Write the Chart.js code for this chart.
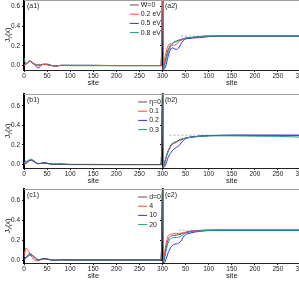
<!DOCTYPE html>
<html>
<head>
<meta charset="utf-8">
<script src="https://cdn.jsdelivr.net/npm/chart.js@4.4.1/dist/chart.umd.min.js"></script>
<style>
html, body { margin: 0; padding: 0; background: #fff; overflow: hidden; width: 299px; height: 281px; }
canvas { position: absolute; left: 0; }
</style>
</head>
<body>
<canvas id="rowA" width="310" height="90" style="top:0px"></canvas>
<canvas id="rowB" width="310" height="95" style="top:93px"></canvas>
<canvas id="rowC" width="310" height="95" style="top:188px"></canvas>
<script>
// sites of the left panels and of the right panels (right ones counted from 300)
const siteL = [0, 4, 8, 12, 16, 20, 25, 30, 35, 40, 45, 50, 55, 60, 70, 80, 100, 150, 200, 250, 297, 300];
const siteR = [0, 3, 6, 9, 12, 15, 18, 21, 24, 27, 30, 35, 40, 45, 50, 60, 70, 80, 90, 100, 120, 150, 200, 250, 300];
const yTicks = [0.0, 0.2, 0.4, 0.6];
const refLevel = 0.3;

// row a : disorder W
const aLabels = ['W=0', '0.2 eV', '0.5 eV', '0.8 eV'];
const a1_W0  = [0.0, 0.02, 0.03, 0.045, 0.035, 0.02, 0.01, 0.005, 0.008, 0.012, 0.012, 0.01, 0.005, 0.0, -0.003, 0.002, 0.0, 0.0, 0.0, 0.0, 0.0, 0.75];
const a1_W02 = [0.0, 0.015, 0.03, 0.045, 0.035, 0.025, 0.01, 0.0, 0.005, 0.012, 0.012, 0.01, 0.006, 0.0, -0.003, 0.002, 0.0, 0.0, 0.0, 0.0, 0.0, 0.75];
const a1_W05 = [0.0, 0.01, 0.03, 0.048, 0.04, 0.02, 0.0, -0.025, -0.01, 0.012, 0.015, 0.015, 0.01, 0.0, -0.005, 0.003, 0.002, 0.002, 0.0, 0.0, 0.0, 0.75];
const a1_W08 = [0.08, 0.02, 0.03, 0.042, 0.038, 0.025, 0.012, 0.005, 0.008, 0.01, 0.01, 0.008, 0.004, 0.0, -0.004, 0.002, 0.004, 0.003, 0.0, 0.0, 0.0, 0.75];
const a2_W0  = [-0.04, -0.02, 0.05, 0.11, 0.16, 0.19, 0.21, 0.225, 0.235, 0.24, 0.245, 0.255, 0.26, 0.27, 0.28, 0.285, 0.29, 0.295, 0.298, 0.3, 0.3, 0.3, 0.3, 0.3, 0.3];
const a2_W02 = [-0.03, 0.02, 0.1, 0.16, 0.2, 0.22, 0.225, 0.21, 0.205, 0.21, 0.22, 0.24, 0.26, 0.27, 0.275, 0.28, 0.29, 0.295, 0.3, 0.3, 0.3, 0.3, 0.3, 0.3, 0.3];
const a2_W05 = [-0.045, -0.04, -0.02, 0.03, 0.09, 0.14, 0.17, 0.18, 0.175, 0.168, 0.165, 0.18, 0.22, 0.255, 0.27, 0.278, 0.282, 0.285, 0.29, 0.295, 0.3, 0.3, 0.3, 0.3, 0.3];
const a2_W08 = [-0.04, -0.02, 0.03, 0.08, 0.13, 0.17, 0.2, 0.22, 0.235, 0.245, 0.25, 0.26, 0.268, 0.275, 0.28, 0.285, 0.29, 0.295, 0.298, 0.3, 0.3, 0.3, 0.3, 0.3, 0.3];

// row b : eta
const bLabels = ['η=0', '0.1', '0.2', '0.3'];
const b1_eta0  = [0.0, 0.01, 0.025, 0.04, 0.045, 0.035, 0.02, 0.008, 0.01, 0.015, 0.015, 0.012, 0.008, 0.003, 0.0, 0.003, 0.0, 0.0, 0.0, 0.0, 0.0, 0.75];
const b1_eta01 = [0.005, 0.012, 0.028, 0.042, 0.046, 0.036, 0.02, 0.009, 0.01, 0.014, 0.015, 0.012, 0.008, 0.003, 0.001, 0.003, 0.0, 0.0, 0.0, 0.0, 0.0, 0.75];
const b1_eta02 = [0.035, 0.035, 0.03, 0.04, 0.042, 0.035, 0.02, 0.01, 0.012, 0.018, 0.02, 0.015, 0.01, 0.004, 0.0, 0.004, 0.001, 0.0, 0.0, 0.0, 0.0, 0.75];
const b1_eta03 = [0.02, 0.025, 0.04, 0.052, 0.055, 0.045, 0.025, 0.012, 0.01, 0.012, 0.012, 0.01, 0.008, 0.006, 0.01, 0.008, 0.002, 0.002, 0.0, 0.0, 0.0, 0.75];
const b2_eta0  = [-0.03, -0.01, 0.04, 0.09, 0.13, 0.16, 0.19, 0.21, 0.22, 0.225, 0.23, 0.245, 0.255, 0.265, 0.27, 0.28, 0.285, 0.29, 0.293, 0.295, 0.297, 0.298, 0.298, 0.298, 0.297];
const b2_eta01 = [-0.03, -0.01, 0.04, 0.09, 0.13, 0.165, 0.19, 0.205, 0.215, 0.22, 0.225, 0.24, 0.25, 0.26, 0.27, 0.278, 0.283, 0.288, 0.292, 0.295, 0.297, 0.298, 0.298, 0.297, 0.297];
const b2_eta02 = [-0.035, -0.03, -0.01, 0.03, 0.07, 0.1, 0.12, 0.14, 0.155, 0.165, 0.175, 0.19, 0.22, 0.245, 0.265, 0.28, 0.285, 0.29, 0.293, 0.296, 0.298, 0.3, 0.3, 0.3, 0.3];
const b2_eta03 = [-0.03, 0.0, 0.05, 0.1, 0.14, 0.17, 0.2, 0.215, 0.225, 0.23, 0.235, 0.25, 0.26, 0.265, 0.27, 0.278, 0.283, 0.288, 0.29, 0.292, 0.293, 0.293, 0.29, 0.288, 0.28];

// row c : d
const cLabels = ['d=0', '4', '10', '20'];
const c1_d0  = [0.0, 0.02, 0.045, 0.06, 0.055, 0.035, 0.012, 0.0, 0.005, 0.012, 0.012, 0.008, 0.004, 0.0, -0.002, 0.002, 0.0, 0.0, 0.0, 0.0, 0.0, 0.75];
const c1_d4  = [0.03, 0.12, 0.1, 0.07, 0.04, 0.01, -0.005, -0.008, 0.0, 0.008, 0.01, 0.008, 0.004, 0.0, 0.0, 0.002, 0.0, 0.0, 0.0, 0.0, 0.0, 0.75];
const c1_d10 = [0.02, 0.025, 0.035, 0.048, 0.05, 0.04, 0.02, 0.005, 0.005, 0.013, 0.016, 0.012, 0.006, 0.0, -0.002, 0.002, 0.001, 0.0, 0.0, 0.0, 0.0, 0.75];
const c1_d20 = [0.0, 0.02, 0.045, 0.06, 0.058, 0.04, 0.015, 0.002, 0.006, 0.012, 0.012, 0.008, 0.004, 0.0, -0.002, 0.002, 0.0, 0.0, 0.0, 0.0, 0.0, 0.75];
const c2_d0  = [-0.03, 0.0, 0.08, 0.15, 0.2, 0.23, 0.24, 0.245, 0.245, 0.248, 0.25, 0.255, 0.26, 0.27, 0.278, 0.288, 0.293, 0.297, 0.298, 0.3, 0.3, 0.3, 0.3, 0.3, 0.3];
const c2_d4  = [-0.025, 0.03, 0.12, 0.19, 0.24, 0.255, 0.26, 0.262, 0.265, 0.265, 0.265, 0.267, 0.27, 0.275, 0.28, 0.29, 0.295, 0.298, 0.3, 0.3, 0.3, 0.3, 0.3, 0.3, 0.3];
const c2_d10 = [-0.035, -0.03, -0.01, 0.03, 0.07, 0.1, 0.13, 0.145, 0.155, 0.16, 0.163, 0.17, 0.19, 0.23, 0.255, 0.272, 0.282, 0.288, 0.293, 0.297, 0.3, 0.3, 0.3, 0.3, 0.3];
const c2_d20 = [-0.03, -0.01, 0.05, 0.12, 0.17, 0.2, 0.215, 0.222, 0.225, 0.226, 0.227, 0.23, 0.24, 0.255, 0.27, 0.283, 0.29, 0.295, 0.298, 0.3, 0.3, 0.3, 0.3, 0.3, 0.3];

const colors = ['#555555', '#ff4040', '#3030ff', '#1a9c8c'];
const FONT = "'Liberation Sans', Arial, sans-serif";
Chart.defaults.font.family = FONT;

// extra drawing: frame top, "site" titles, panel tags, y title, legend
const decor = {
    id: 'decor',
    afterDraw(chart, args, o) {
        const {ctx, chartArea: a, scales} = chart;
        const xs = scales.x;
        const xMid = xs.getPixelForValue(300);
        ctx.save();
        ctx.strokeStyle = '#a0a0a0';
        ctx.lineWidth = 1;
        ctx.beginPath();
        ctx.moveTo(a.left, a.top + 0.5);
        ctx.lineTo(a.right, a.top + 0.5);
        ctx.stroke();

        ctx.fillStyle = '#222';
        ctx.textBaseline = 'middle';
        ctx.textAlign = 'center';
        ctx.font = '7.5px ' + FONT;
        ctx.fillText('site', xs.getPixelForValue(150), a.bottom + 13);
        ctx.fillText('site', xs.getPixelForValue(450), a.bottom + 13);

        ctx.textAlign = 'left';
        ctx.font = '7px ' + FONT;
        ctx.fillText(o.tags[0], a.left + 3, a.top + o.tagTop);
        ctx.fillText(o.tags[1], xMid + 2.5, a.top + o.tagTop);

        // legend, right aligned against the middle axis
        const maxW = Math.max(...o.labels.map(t => ctx.measureText(t).width));
        const tx = xMid - 1.5 - maxW;
        o.labels.forEach((t, i) => {
            const y = a.top + o.legendTop + i * 9.2;
            ctx.strokeStyle = colors[i];
            ctx.beginPath();
            ctx.moveTo(tx - 11, y);
            ctx.lineTo(tx - 2, y);
            ctx.stroke();
            ctx.fillText(t, tx, y);
        });

        // y title J_y(x)
        ctx.translate(7.5, (a.top + a.bottom) / 2);
        ctx.rotate(-Math.PI / 2);
        ctx.font = '7.5px ' + FONT;
        const wJ = ctx.measureText('J').width;
        const wX = ctx.measureText('(x)').width;
        ctx.font = '5.5px ' + FONT;
        const wY = ctx.measureText('y').width;
        let x0 = -(wJ + wY + wX) / 2;
        ctx.font = '7.5px ' + FONT;
        ctx.fillText('J', x0, 0);
        ctx.font = '5.5px ' + FONT;
        ctx.fillText('y', x0 + wJ, 2);
        ctx.font = '7.5px ' + FONT;
        ctx.fillText('(x)', x0 + wJ + wY, 0);
        ctx.restore();
    }
};

function makeRow(id, left, right, labels, tags, yMin, yMax, padTop, legendTop, refStart, spikeTop) {
    const datasets = [];
    for (let i = 0; i < 4; i++) {
        datasets.push({
            data: siteL.map((s, k) => ({x: s, y: left[i][k]})),
            borderColor: colors[i], borderWidth: 1, order: i === spikeTop ? 0 : 5 - i
        });
        datasets.push({
            data: siteR.map((s, k) => ({x: 300 + s, y: right[i][k]})),
            borderColor: colors[i], borderWidth: 1, order: 5 - i
        });
    }
    datasets.push({
        data: [{x: 300 + refStart, y: refLevel}, {x: 600, y: refLevel}],
        borderColor: '#999', borderWidth: 0.8, borderDash: [2, 2], order: 10
    });

    const noPad = s => { s.paddingTop = 0; s.paddingBottom = 0; s.paddingLeft = 0; s.paddingRight = 0; };

    new Chart(document.getElementById(id), {
        type: 'line',
        data: {datasets},
        options: {
            responsive: false,
            animation: false,
            events: [],
            layout: {padding: {top: padTop, right: 9, left: 0, bottom: 0}},
            elements: {
                point: {radius: 0},
                line: {cubicInterpolationMode: 'monotone'}
            },
            plugins: {legend: {display: false}, tooltip: {enabled: false}, decor: {labels, tags, legendTop, tagTop: 6}},
            scales: {
                x: {
                    type: 'linear', min: 0, max: 600,
                    afterFit: s => { noPad(s); s.height = 20; },
                    grid: {drawOnChartArea: false, tickLength: 2, color: '#222'},
                    border: {color: '#222', width: 1},
                    ticks: {
                        stepSize: 50, autoSkip: false, maxRotation: 0, padding: 0,
                        font: {size: 6.5}, color: '#222',
                        callback: v => (v <= 300 ? v : v - 300)
                    }
                },
                y: {
                    min: yMin, max: yMax,
                    afterFit: s => { noPad(s); s.width = 24; },
                    afterBuildTicks: s => { s.ticks = yTicks.map(v => ({value: v})); },
                    grid: {drawOnChartArea: false, tickLength: 2, color: '#222'},
                    border: {color: '#000', width: 2},
                    ticks: {padding: 2, font: {size: 6.5}, color: '#222', callback: v => v.toFixed(1)}
                },
                y2: {
                    axis: 'y', position: {x: 300},
                    min: yMin, max: yMax,
                    afterBuildTicks: s => { s.ticks = yTicks.map(v => ({value: v})); },
                    grid: {drawOnChartArea: false, tickLength: 2, color: '#000'},
                    border: {color: '#000', width: 1.5},
                    ticks: {display: false}
                }
            }
        },
        plugins: [decor]
    });
}

makeRow('rowA', [a1_W0, a1_W02, a1_W05, a1_W08], [a2_W0, a2_W02, a2_W05, a2_W08],
    aLabels, ['(a1)', '(a2)'], -0.045, 0.668, 0, 5, 40, 1);
makeRow('rowB', [b1_eta0, b1_eta01, b1_eta02, b1_eta03], [b2_eta0, b2_eta01, b2_eta02, b2_eta03],
    bLabels, ['(b1)', '(b2)'], -0.035, 0.72, 1, 8, 15, 0);
makeRow('rowC', [c1_d0, c1_d4, c1_d10, c1_d20], [c2_d0, c2_d4, c2_d10, c2_d20],
    cLabels, ['(c1)', '(c2)'], -0.03, 0.715, 1, 8, 35, 0);
</script>
</body>
</html>
